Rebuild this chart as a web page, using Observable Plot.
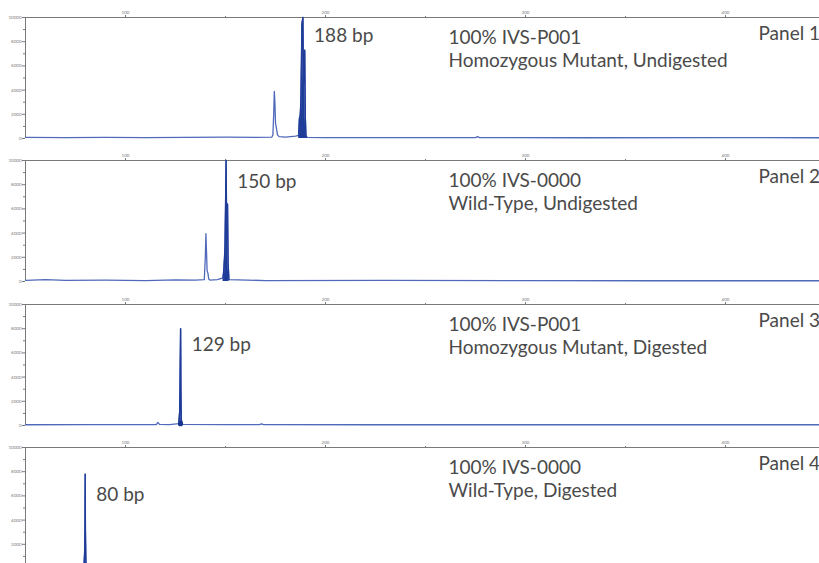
<!DOCTYPE html>
<html>
<head>
<meta charset="utf-8">
<script src="https://cdn.jsdelivr.net/npm/d3@7"></script>
<script src="https://cdn.jsdelivr.net/npm/@observablehq/plot@0.6"></script>
<style>
  html, body { margin: 0; padding: 0; background: #fff; }
  #wrap { position: relative; width: 819px; height: 563px; overflow: hidden; background: #fff; }
  #wrap svg { position: absolute; left: 0; }
</style>
</head>
<body>
<div id="wrap"></div>
<script>
// ---- axes ----
const xDomain = [50, 447];
const yDomain = [0, 10000];
const xTicks = [100, 200, 300, 400];
const xMinorTicks = [150, 250, 350];
const yTicks = [0, 2000, 4000, 6000, 8000, 10000];
const yMinorTicks = [1000, 3000, 5000, 7000, 9000];

// ---- panel 1: 100% IVS-P001, homozygous mutant, undigested ----
const p1TraceX = [50, 70, 90, 110, 130, 150, 165, 173.2, 173.7, 174.1, 174.4, 174.7, 175.0, 175.5, 176.0, 176.8, 180, 185, 186.6, 187.0, 187.4, 187.8, 188.2, 188.7, 189.0, 189.6, 189.9, 190.2, 190.6, 200, 250, 275, 276, 277, 330, 400, 447];
const p1TraceY = [90, 70, 100, 80, 90, 110, 90, 120, 300, 2000, 3900, 3000, 1300, 800, 300, 150, 120, 200, 250, 1700, 1900, 3600, 9400, 10000, 4500, 7300, 1800, 300, 100, 80, 70, 70, 150, 70, 60, 70, 60];
const p1PeakX = [186.6, 187.0, 187.4, 187.8, 188.2, 188.7, 189.0, 189.6, 189.9, 190.2, 190.6];
const p1PeakY = [250, 1700, 1900, 3600, 9400, 10000, 4500, 7300, 1800, 300, 100];

// ---- panel 2: 100% IVS-0000, wild-type, undigested ----
const p2TraceX = [50, 60, 70, 90, 110, 125, 135, 139.4, 139.9, 140.2, 140.5, 140.8, 141.2, 141.6, 142.2, 146, 148.8, 149.3, 149.8, 150.3, 150.6, 151.0, 151.3, 151.7, 170, 230, 300, 360, 447];
const p2TraceY = [100, 160, 90, 110, 80, 140, 120, 150, 2000, 3950, 2500, 900, 700, 200, 120, 150, 300, 1200, 3000, 10000, 3500, 6400, 1500, 150, 80, 90, 70, 60, 60];
const p2PeakX = [148.8, 149.3, 149.8, 150.3, 150.6, 151.0, 151.3, 151.7];
const p2PeakY = [300, 1200, 3000, 10000, 3500, 6400, 1500, 150];

// ---- panel 3: 100% IVS-P001, homozygous mutant, digested ----
const p3TraceX = [50, 80, 110, 115.4, 116.2, 117.0, 122, 126.7, 127.1, 127.3, 127.45, 127.55, 127.7, 127.9, 128.3, 150, 167, 168, 169, 220, 300, 447];
const p3TraceY = [60, 70, 70, 80, 260, 90, 70, 150, 1200, 3500, 6100, 8000, 3000, 500, 100, 70, 70, 140, 70, 60, 60, 60];
const p3PeakX = [126.7, 127.1, 127.3, 127.45, 127.55, 127.7, 127.9, 128.3];
const p3PeakY = [150, 1200, 3500, 6100, 8000, 3000, 500, 100];
const p3MarkerX = [127.5];
const p3MarkerY = [150];

// ---- panel 4: 100% IVS-0000, wild-type, digested ----
const p4TraceX = [50, 70, 79.3, 79.6, 79.75, 79.85, 79.95, 80.2, 80.5, 120, 250, 447];
const p4TraceY = [60, 70, 150, 1500, 3000, 7800, 3200, 500, 100, 60, 60, 60];
const p4PeakX = [79.3, 79.6, 79.75, 79.85, 79.95, 80.2, 80.5];
const p4PeakY = [150, 1500, 3000, 7800, 3200, 500, 100];

// ---- labels ----
const sizeLabels = ["188 bp", "150 bp", "129 bp", "80 bp"];
const sizeLabelX = [188.8, 150.4, 127.6, 79.9];
const sizeLabelY = [8450, 8250, 6650, 6100];
const titleLine1 = ["100% IVS-P001", "100% IVS-0000", "100% IVS-P001", "100% IVS-0000"];
const titleLine2 = ["Homozygous Mutant, Undigested", "Wild-Type, Undigested", "Homozygous Mutant, Digested", "Wild-Type, Digested"];
const panelNames = ["Panel 1", "Panel 2", "Panel 3", "Panel 4"];
const titleX = 261.5;
const panelNameX = 416.5;

const panelTops = [0, 143, 287, 430];

const zip = (xs, ys) => xs.map((x, i) => ({x, y: ys[i]}));
const panels = [
  {trace: zip(p1TraceX, p1TraceY), peak: zip(p1PeakX, p1PeakY), markers: []},
  {trace: zip(p2TraceX, p2TraceY), peak: zip(p2PeakX, p2PeakY), markers: []},
  {trace: zip(p3TraceX, p3TraceY), peak: zip(p3PeakX, p3PeakY), markers: zip(p3MarkerX, p3MarkerY)},
  {trace: zip(p4TraceX, p4TraceY), peak: zip(p4PeakX, p4PeakY), markers: []}
];

const FONT = "Lato, 'Open Sans', sans-serif";
const TXT = "#4a4a4a";
const AX = "#7a7a7a";
const wrap = document.getElementById("wrap");

panels.forEach((p, i) => {
  const last = i === panels.length - 1;
  const chart = Plot.plot({
    width: 819,
    height: 143,
    marginLeft: 25,
    marginRight: 0,
    marginTop: 17,
    marginBottom: 5,
    x: {domain: xDomain},
    y: {domain: yDomain},
    style: {fontFamily: FONT, background: "transparent", overflow: "visible"},
    marks: [
      Plot.ruleY([10000], {stroke: AX, strokeWidth: 1}),
      Plot.ruleX([50], {stroke: AX, strokeWidth: 1}),
      Plot.axisX({anchor: "top", ticks: xTicks, tickSize: 3, tickPadding: 1, fontSize: 4.5, label: null, color: AX, tickFormat: d => String(d)}),
      Plot.axisX({anchor: "top", ticks: xMinorTicks, tickSize: 2, label: null, color: AX, tickFormat: () => ""}),
      Plot.axisY({ticks: last ? yTicks.filter(t => t > 0) : yTicks, tickSize: 3, tickPadding: 1, fontSize: 4.5, label: null, color: AX, tickFormat: d => String(d)}),
      Plot.axisY({ticks: yMinorTicks, tickSize: 2, label: null, color: AX, tickFormat: () => ""}),
      Plot.areaY(p.peak, {x: "x", y: "y", fill: "#1f3c98", curve: "linear"}),
      Plot.lineY(p.trace, {x: "x", y: "y", stroke: "#5069bb", strokeWidth: 1.3, curve: "linear"}),
      Plot.lineY(p.peak, {x: "x", y: "y", stroke: "#1f3c98", strokeWidth: 1.4, curve: "linear"}),
      Plot.dot(p.markers, {x: "x", y: "y", r: 2.6, fill: "#1a3590", stroke: "none"}),
      Plot.text([sizeLabels[i]], {x: sizeLabelX[i], y: sizeLabelY[i], text: d => d, dx: 11, textAnchor: "start", lineAnchor: "middle", fontSize: 19, fill: TXT}),
      Plot.text([titleLine1[i] + "\n" + titleLine2[i]], {x: titleX, frameAnchor: "top", dy: 9, text: d => d, textAnchor: "start", lineAnchor: "top", lineHeight: 1.26, fontSize: 19, fill: TXT}),
      Plot.text([panelNames[i]], {x: panelNameX, frameAnchor: "top", dy: 9, text: d => d, textAnchor: "start", lineAnchor: "top", fontSize: 19, fill: TXT})
    ]
  });
  chart.style.top = panelTops[i] + "px";
  wrap.appendChild(chart);
});
</script>
</body>
</html>
